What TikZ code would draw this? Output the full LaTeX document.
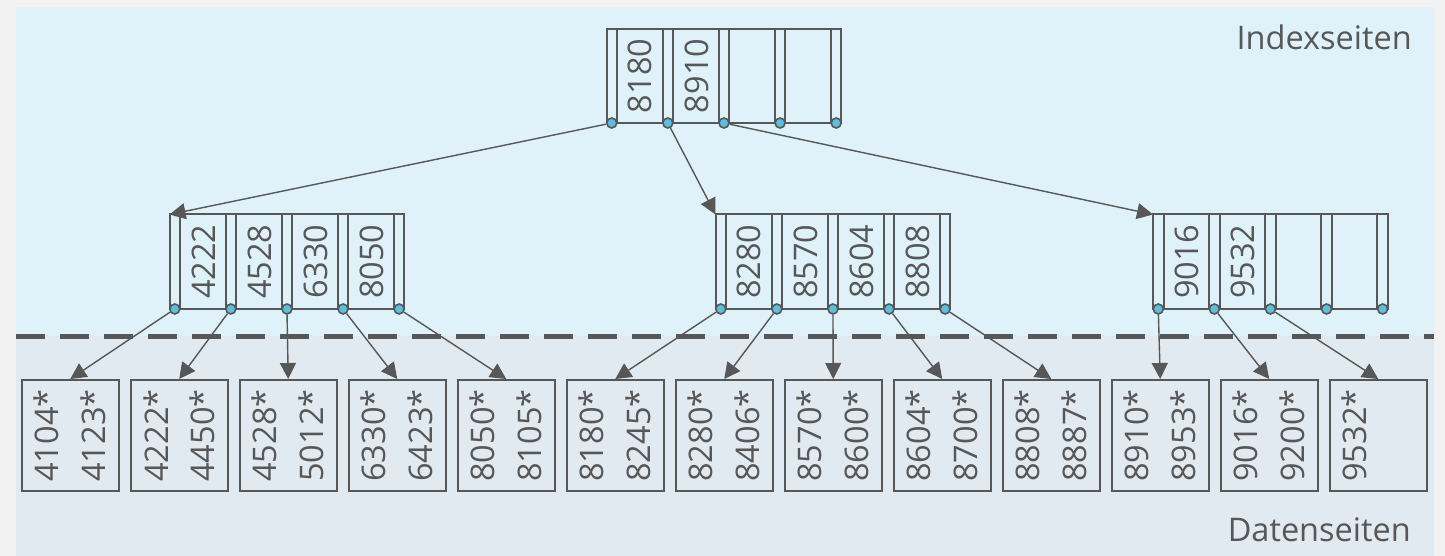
\documentclass[tikz,border=0pt]{standalone}
\usepackage{fontspec}
\setmainfont{Open Sans}
\usetikzlibrary{arrows.meta}
\definecolor{linegray}{HTML}{575757}
\definecolor{outerbg}{HTML}{F2F2F2}
\definecolor{topbg}{HTML}{DFF1F9}
\definecolor{botbg}{HTML}{E1E9F1}
\definecolor{dotblue}{HTML}{5BC0DE}
\newcommand\myidxnode[4]{%
  \node[idxbox, anchor=north west, minimum height={#4-#3}] (#1) at (#2,#3) {};
  \foreach \i in {0,...,4}{
    \node[idxbar, anchor=north west, minimum height={#4-#3}] (#1-b\i) at ({#2+\i*56.1},#3) {};
  }
}
\newcommand\myidxdots[1]{%
  \foreach \i in {0,...,4}{
    \node[dot] (#1-c\i) at (#1-b\i.south) {};
  }
}
\begin{document}
\begin{tikzpicture}[x=1pt,y=-1pt,
  idxbox/.style={draw=linegray, line width=2pt, minimum width=234.9pt, inner sep=0pt, outer sep=0pt},
  idxbar/.style={draw=linegray, line width=2pt, minimum width=10.5pt, inner sep=0pt, outer sep=0pt},
  dot/.style={circle, draw=linegray, fill=dotblue, line width=1.6pt, minimum size=10pt, inner sep=0pt},
  dbox/.style={draw=linegray, line width=2pt, minimum width=96.5pt, minimum height=111pt, inner sep=0pt},
  txt/.style={text=linegray, font=\fontsize{32.5pt}{38pt}\selectfont, inner sep=0pt},
  rtxt/.style={txt, rotate=90, anchor=center},
  arr/.style={draw=linegray, line width=1.4pt, -{Triangle[length=16pt,width=16pt]}},
  dashline/.style={draw=linegray, line width=5pt, dash pattern=on 29pt off 15pt}
]
\useasboundingbox (0,0) rectangle (1445,556);
\fill[outerbg] (0,0) rectangle (1445,556);
\fill[topbg] (16,7) rectangle (1434,336);
\fill[botbg] (16,336) rectangle (1434,556);
\draw[dashline] (16,336) -- (1434,336);

% index nodes
\myidxnode{root}{606.5}{29}{123}
\myidxnode{L}{169.5}{214.5}{309}
\myidxnode{M}{715.5}{214.5}{309}
\myidxnode{R}{1153}{214.5}{309}

% keys
\node[rtxt] (root-k1) at (640.3,76) {8180};
\node[rtxt] (root-k2) at (696.4,76) {8910};
\node[rtxt] (L-k1) at (203.3,261.75) {4222};
\node[rtxt] (L-k2) at (259.4,261.75) {4528};
\node[rtxt] (L-k3) at (315.5,261.75) {6330};
\node[rtxt] (L-k4) at (371.6,261.75) {8050};
\node[rtxt] (M-k1) at (749.3,261.75) {8280};
\node[rtxt] (M-k2) at (805.4,261.75) {8570};
\node[rtxt] (M-k3) at (861.5,261.75) {8604};
\node[rtxt] (M-k4) at (917.6,261.75) {8808};
\node[rtxt] (R-k1) at (1186.8,261.75) {9016};
\node[rtxt] (R-k2) at (1242.9,261.75) {9532};

% data pages
\foreach \a/\b [count=\k] in {4104*/4123*,4222*/4450*,4528*/5012*,6330*/6423*,8050*/8105*,8180*/8245*,8280*/8406*,8570*/8600*,8604*/8700*,8808*/8887*,8910*/8953*,9016*/9200*}{
  \node[dbox] (d\k) at ({70.25+(\k-1)*109},435.5) {};
  \node[rtxt] (d\k-a) at ([xshift=-23.5pt]d\k.center) {\a};
  \node[rtxt] (d\k-b) at ([xshift=23.5pt]d\k.center) {\b};
}
\node[dbox] (d13) at ({70.25+12*109},435.5) {};
\node[rtxt] (d13-a) at ([xshift=-23.5pt]d13.center) {9532*};

% dots
\myidxdots{root}
\myidxdots{L}
\myidxdots{M}
\myidxdots{R}

% connectors
\draw[arr] (root-c0) -- (L.north west);
\draw[arr] (root-c1) -- (M.north west);
\draw[arr] (root-c2) -- (R.north west);
\foreach \i [evaluate=\i as \k using int(\i+1)] in {0,...,4}{
  \draw[arr] (L-c\i) -- (d\k.north);
}
\foreach \i [evaluate=\i as \k using int(\i+6)] in {0,...,4}{
  \draw[arr] (M-c\i) -- (d\k.north);
}
\foreach \i [evaluate=\i as \k using int(\i+11)] in {0,...,2}{
  \draw[arr] (R-c\i) -- (d\k.north);
}

% labels
\node[txt, anchor=base east] (idxlbl) at (1412,50) {Indexseiten};
\node[txt, anchor=base east] (datlbl) at (1411,541.5) {Datenseiten};
\end{tikzpicture}
\end{document}
